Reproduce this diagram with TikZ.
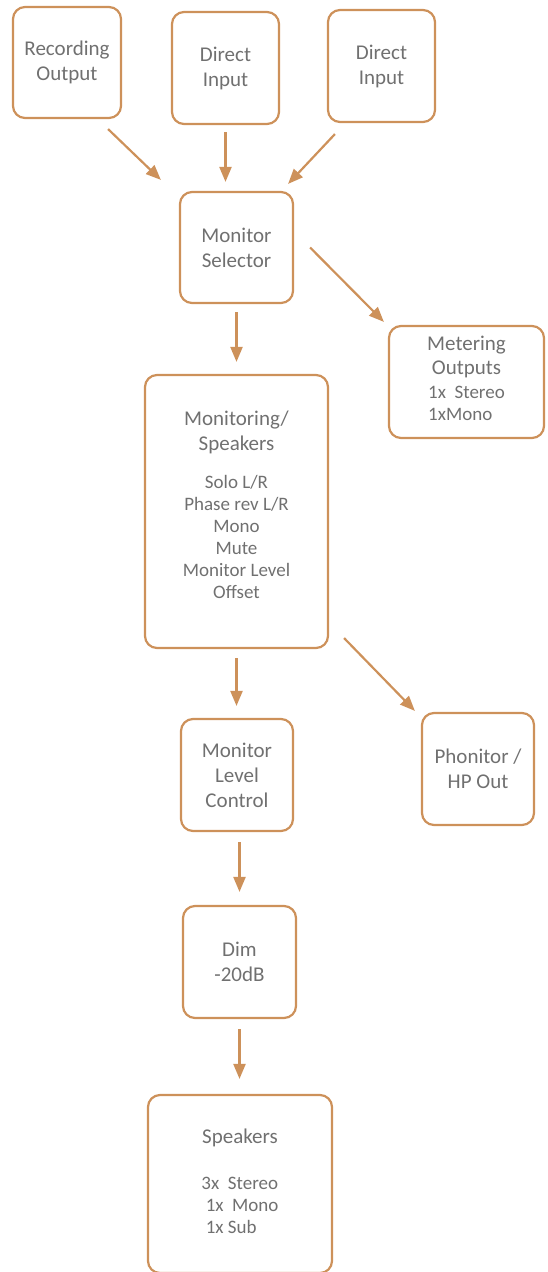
\documentclass[tikz,border=0pt]{standalone}
\usepackage{fontspec}
\setmainfont{Carlito}
\usetikzlibrary{arrows.meta, positioning, calc}
\definecolor{copper}{RGB}{205,145,90}
\definecolor{inkgray}{RGB}{112,112,112}
\newcommand{\hdsize}{\fontsize{21}{25}\selectfont}
\newcommand{\lssize}{\fontsize{19}{22}\selectfont}

\begin{document}
\begin{tikzpicture}[x=1pt, y=-1pt,
  block/.style={draw=copper, line width=2.2pt, rounded corners=12pt,
                text=inkgray, align=center, inner sep=0pt, font=\hdsize},
  arr/.style={draw=copper, line width=2.2pt,
              -{Triangle[length=15pt,width=12pt]}}]
  \useasboundingbox (0,0) rectangle (547,1272);
  % Sources
  \node[block, minimum width=108pt, minimum height=111pt] (rec) at (67,62.5)
    {Recording\\Output};
  \node[block, minimum width=107pt, minimum height=112pt] (dia) at (225.5,68)
    {Direct\\Input};
  \node[block, minimum width=107pt, minimum height=112pt] (dib) at (381.5,66)
    {Direct\\Input};
  % Selector and metering
  \node[block, minimum width=113pt, minimum height=111pt] (sel) at (236.5,247.5)
    {Monitor\\Selector};
  \node[block, font=\lssize, minimum width=155pt, minimum height=112pt] (met) at (466.5,382)
    {{\hdsize Metering}\\[2pt]{\hdsize Outputs}\\[2pt]
     \begin{tabular}[t]{@{}l@{}}1x\ \ Stereo\\1xMono\end{tabular}};
  % Monitoring section
  \node[block, font=\lssize, minimum width=183pt, minimum height=273pt] (mon) at (236.5,511.5)
    {{\hdsize Monitoring/}\\[3pt]{\hdsize Speakers}\\[16pt]
     Solo L/R\\Phase rev L/R\\Mono\\Mute\\Monitor Level\\Offset\\[-8pt]\mbox{}};
  \node[block, minimum width=112pt, minimum height=112pt] (lvl) at (237,775)
    {Monitor\\Level\\Control};
  \node[block, minimum width=112pt, minimum height=112pt] (pho) at (478,769)
    {Phonitor /\\HP Out};
  \node[block, minimum width=113pt, minimum height=112pt] (dim) at (239.5,962)
    {Dim\\-20dB};
  \node[block, font=\lssize, minimum width=184pt, minimum height=178pt] (spk) at (240,1184)
    {{\hdsize Speakers}\\[24pt]
     \begin{tabular}[t]{@{}l@{}}3x\ \ Stereo\\\ 1x\ \ Mono\\\ 1x Sub\end{tabular}};
  % Signal flow
  \draw[arr] ([xshift=-14pt,yshift=-10pt]rec.south east) -- ([xshift=-18pt,yshift=11pt]sel.north west);
  \draw[arr, shorten <=7pt, shorten >=9pt] (dia.south) -- (dia.south |- sel.north);
  \draw[arr] ([xshift=8pt,yshift=-11pt]dib.south west) -- ([xshift=-6pt,yshift=7pt]sel.north east);
  \draw[arr, shorten <=8pt, shorten >=12pt] (sel.south) -- (mon.north);
  \draw[arr] ([xshift=16pt]sel.east) -- ([xshift=-4pt,yshift=3pt]met.north west);
  \draw[arr, shorten <=9pt, shorten >=12pt] (mon.south) -- (mon.south |- lvl.north);
  \draw[arr] ([xshift=15pt,yshift=11pt]mon.south east) -- ([xshift=-6pt,yshift=1pt]pho.north west);
  \draw[arr, shorten <=10pt, shorten >=13pt] (dim.north |- lvl.south) -- (dim.north);
  \draw[arr, shorten <=10pt, shorten >=15pt] (dim.south) -- (dim.south |- spk.north);
\end{tikzpicture}
\end{document}
